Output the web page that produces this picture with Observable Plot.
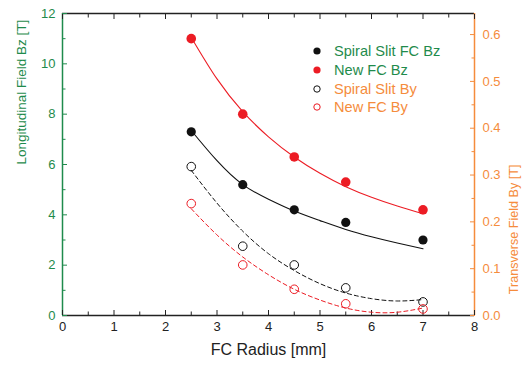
<!DOCTYPE html>
<html>
<head>
<meta charset="utf-8">
<script src="https://cdn.jsdelivr.net/npm/d3@7"></script>
<script src="https://cdn.jsdelivr.net/npm/@observablehq/plot@0.6"></script>
<style>
  html, body { margin: 0; padding: 0; background: #fff; }
  #wrap { position: relative; width: 529px; height: 366px; font-family: "Liberation Sans", Arial, sans-serif; }
  #legend { position: absolute; left: 311px; top: 42px; font-size: 14.6px; }
  .row { display: flex; align-items: center; height: 18.7px; }
  .row svg { width: 12px; height: 12px; margin-right: 11px; }
</style>
</head>
<body>
<div id="wrap"><div id="legend"></div></div>
<script>
// ---- data ----
const radius = [2.5, 3.5, 4.5, 5.5, 7];
const spiralBz = [7.3, 5.2, 4.2, 3.7, 3.0];
const newBz = [11.0, 8.0, 6.3, 5.3, 4.2];
const spiralBy = [0.318, 0.148, 0.108, 0.059, 0.029];
const newBy = [0.239, 0.108, 0.056, 0.025, 0.014];

// fitted curves
const fitX = [2.5, 3, 3.5, 4, 4.5, 5, 5.5, 6, 6.5, 7];
const fitSpiralBz = [7.35, 6.15, 5.2, 4.62, 4.15, 3.77, 3.42, 3.13, 2.88, 2.65];
const fitNewBz = [11.05, 9.4, 8.1, 7.1, 6.3, 5.65, 5.12, 4.7, 4.35, 4.04];
const fitSpiralBy = [0.31, 0.24, 0.18, 0.132, 0.096, 0.068, 0.048, 0.036, 0.031, 0.034];
const fitNewBy = [0.228, 0.172, 0.125, 0.087, 0.056, 0.033, 0.016, 0.007, 0.007, 0.016];

// axes
const xMajor = [0, 1, 2, 3, 4, 5, 6, 7, 8];
const xMinor = [0.5, 1.5, 2.5, 3.5, 4.5, 5.5, 6.5, 7.5];
const yMajor = [0, 2, 4, 6, 8, 10, 12];
const yMinor = [1, 3, 5, 7, 9, 11];
const rMajor = [0, 0.1, 0.2, 0.3, 0.4, 0.5, 0.6];
const rMinor = [0.05, 0.15, 0.25, 0.35, 0.45, 0.55];
const rightMax = 0.645;

const legendLabels = ["Spiral Slit FC Bz", "New FC Bz", "Spiral Slit By", "New FC By"];

const green = "#1f8b4c", orange = "#f58c3c", red = "#ec1c24", black = "#111";
const k = 12 / rightMax; // right-axis value -> left-axis units

const pts = (ys, f = 1) => radius.map((x, i) => ({x, y: ys[i] * f}));
const fit = (ys, f = 1) => fitX.map((x, i) => ({x, y: ys[i] * f}));

const chart = Plot.plot({
  width: 529, height: 366,
  marginLeft: 62, marginRight: 55, marginTop: 13, marginBottom: 51,
  x: {domain: [0, 8], label: null},
  y: {domain: [0, 12], label: null},
  style: {fontFamily: "'Liberation Sans', Arial, sans-serif", fontSize: "13px", background: "white"},
  marks: [
    // frame
    Plot.ruleY([0], {stroke: "#222", strokeWidth: 1.3}),
    Plot.ruleY([12], {stroke: "#222", strokeWidth: 1.3}),
    Plot.ruleX([0], {stroke: green, strokeWidth: 1.5}),
    Plot.ruleX([8], {stroke: orange, strokeWidth: 1.5}),
    // bottom axis
    Plot.axisX({anchor: "bottom", ticks: xMajor, tickSize: -5, tickFormat: () => "", stroke: "#222", label: null}),
    Plot.axisX({anchor: "bottom", ticks: xMinor, tickSize: -3.5, tickFormat: () => "", stroke: "#222", label: null}),
    Plot.axisX({anchor: "bottom", ticks: xMajor, tickSize: 0, tickPadding: 6, fill: "#222", label: null}),
    // top axis
    Plot.axisX({anchor: "top", ticks: xMajor, tickSize: -5, tickFormat: () => "", stroke: "#222", label: null}),
    Plot.axisX({anchor: "top", ticks: xMinor, tickSize: -3.5, tickFormat: () => "", stroke: "#222", label: null}),
    // left axis
    Plot.axisY({anchor: "left", ticks: yMajor, tickSize: -5, tickFormat: () => "", stroke: green, label: null}),
    Plot.axisY({anchor: "left", ticks: yMinor, tickSize: -3.5, tickFormat: () => "", stroke: green, label: null}),
    Plot.axisY({anchor: "left", ticks: yMajor, tickSize: 0, tickPadding: 7, fill: green, label: null}),
    // right axis
    Plot.axisY({anchor: "right", ticks: rMajor.map(v => v * k), tickSize: -5, tickFormat: () => "", stroke: orange, label: null}),
    Plot.axisY({anchor: "right", ticks: rMinor.map(v => v * k), tickSize: -3.5, tickFormat: () => "", stroke: orange, label: null}),
    Plot.axisY({anchor: "right", ticks: rMajor.map(v => v * k), tickSize: 0, tickPadding: 8, tickFormat: d => (d / k).toFixed(1), fill: orange, label: null}),
    // titles
    Plot.text(["Longitudinal Field Bz [T]"], {frameAnchor: "left", rotate: -90, dx: -41, fill: green, fontSize: 13.5}),
    Plot.text(["Transverse Field By [T]"], {frameAnchor: "right", rotate: -90, dx: 39, fill: orange, fontSize: 12.6}),
    Plot.text(["FC Radius [mm]"], {frameAnchor: "bottom", dy: 39, fill: "#222", fontSize: 16}),
    // fits
    Plot.line(fit(fitNewBz), {x: "x", y: "y", stroke: red, strokeWidth: 1.1, curve: "natural"}),
    Plot.line(fit(fitSpiralBz), {x: "x", y: "y", stroke: black, strokeWidth: 1.1, curve: "natural"}),
    Plot.line(fit(fitSpiralBy, k), {x: "x", y: "y", stroke: black, strokeWidth: 1, strokeDasharray: "4,3", curve: "natural"}),
    Plot.line(fit(fitNewBy, k), {x: "x", y: "y", stroke: red, strokeWidth: 1, strokeDasharray: "4,3", curve: "natural"}),
    // points
    Plot.dot(pts(newBz), {x: "x", y: "y", r: 4.8, fill: red, stroke: "none"}),
    Plot.dot(pts(spiralBz), {x: "x", y: "y", r: 4.6, fill: black, stroke: "none"}),
    Plot.dot(pts(spiralBy, k), {x: "x", y: "y", r: 4.3, fill: "none", stroke: black, strokeWidth: 1}),
    Plot.dot(pts(newBy, k), {x: "x", y: "y", r: 4.3, fill: "none", stroke: red, strokeWidth: 1})
  ]
});
const wrap = document.getElementById("wrap");
wrap.insertBefore(chart, wrap.firstChild);

// legend
const legendStyles = [
  {fill: black, stroke: "none", text: green},
  {fill: red, stroke: "none", text: green},
  {fill: "none", stroke: black, text: orange},
  {fill: "none", stroke: red, text: orange}
];
const legend = document.getElementById("legend");
legendLabels.forEach((label, i) => {
  const s = legendStyles[i];
  const row = document.createElement("div");
  row.className = "row";
  row.innerHTML = `<svg viewBox="0 0 12 12"><circle cx="6" cy="6" r="${s.fill === "none" ? 3.2 : 3.6}" fill="${s.fill}" stroke="${s.stroke}" stroke-width="1"/></svg><span style="color:${s.text}">${label}</span>`;
  legend.appendChild(row);
});
</script>
</body>
</html>
